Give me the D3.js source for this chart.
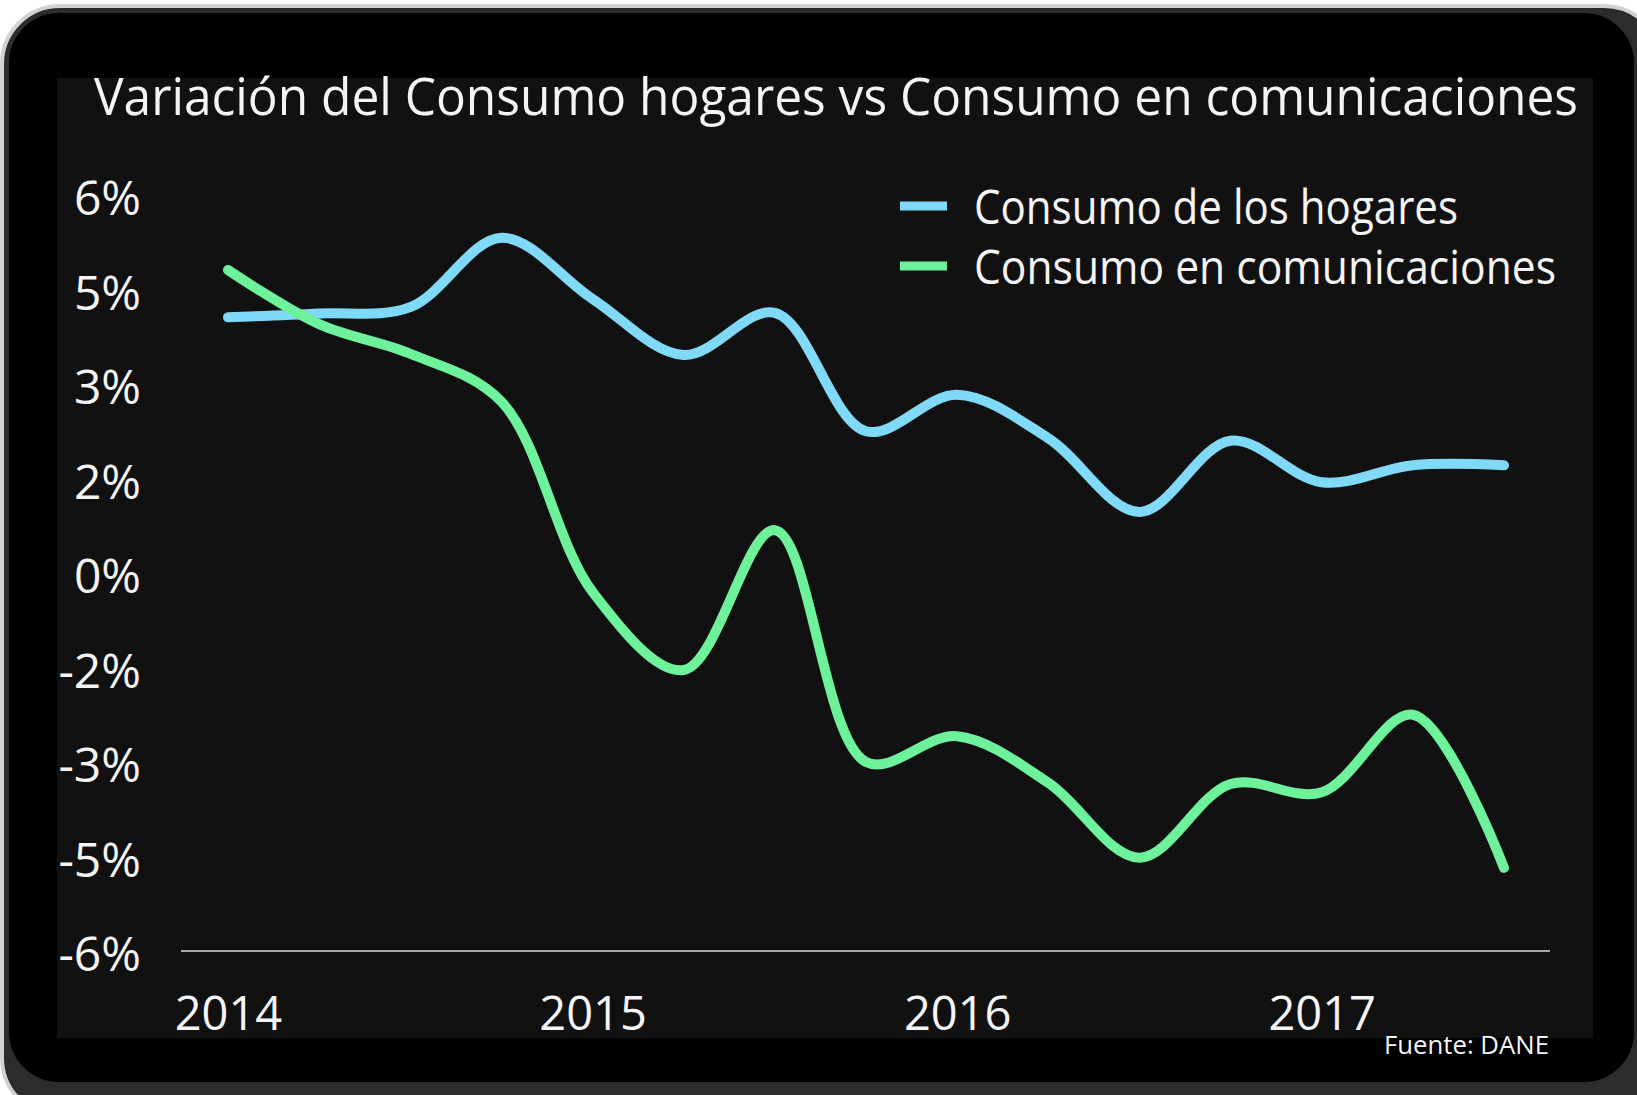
<!DOCTYPE html>
<html>
<head>
<meta charset="utf-8">
<script src="https://cdn.jsdelivr.net/npm/d3@7"></script>
<style>
  body { margin: 0; background: #ffffff; }
  svg { display: block; }
  text { font-family: "Open Sans", "Noto Sans", sans-serif; fill: #f4f4f4; }
</style>
</head>
<body>
<div class="mainView"></div>
<script>
// quarterly periods, 2014 T1 .. 2017 T3
let quarters = [2014.00, 2014.25, 2014.50, 2014.75,
                2015.00, 2015.25, 2015.50, 2015.75,
                2016.00, 2016.25, 2016.50, 2016.75,
                2017.00, 2017.25, 2017.50];
let hogares = [4.06, 4.12, 4.22, 5.32, 4.35, 3.46, 4.13, 2.25, 2.83, 2.14, 0.97, 2.10, 1.44, 1.71, 1.71];
let comunicaciones = [4.81, 3.95, 3.48, 2.72, -0.30, -1.54, 0.68, -3.00, -2.59, -3.33, -4.52, -3.35, -3.48, -2.25, -4.68];
let seriesNames = ["Consumo de los hogares", "Consumo en comunicaciones"];
let seriesColors = ["#7fd9f7", "#6df29b"];
let yTicks = [6, 4.5, 3, 1.5, 0, -1.5, -3, -4.5, -6];
let yTickLabels = ["6%", "5%", "3%", "2%", "0%", "-2%", "-3%", "-5%", "-6%"];
let xTicks = [2014, 2015, 2016, 2017];
let title = "Variación del Consumo hogares vs Consumo en comunicaciones";
let source = "Fuente: DANE";

function chartConfiguration(){
    let width = 1637;
    let height = 1095;
    let svg = d3.select(".mainView")
                .append("svg")
                .attr("width", width)
                .attr("height", height);
    return { width, height, svg };
}

function drawFrame(config){
    let { svg } = config;
    // device-like frame
    svg.append("rect")
        .attr("x", 2).attr("y", 6)
        .attr("width", 1660).attr("height", 1110)
        .attr("rx", 58)
        .style("fill", "#2c2c2c")
        .style("stroke", "#d2d2d2")
        .style("stroke-width", 4);
    svg.append("rect")
        .attr("x", 9).attr("y", 13)
        .attr("width", 1625).attr("height", 1069)
        .attr("rx", 50)
        .style("fill", "#000");
    svg.append("rect")
        .attr("x", 57).attr("y", 78)
        .attr("width", 1536).attr("height", 960)
        .style("fill", "#111111");
}

function chartScales(){
    let xScale = d3.scaleLinear()
        .domain([2014, 2017.5])
        .range([228, 1504]);
    let yScale = d3.scaleLinear()
        .domain([-6, 6])
        .range([951, 195]);
    return { xScale, yScale };
}

function chartAxes(scales, config){
    let { xScale, yScale } = scales;
    let { svg } = config;

    let axisY = d3.axisLeft(yScale)
        .tickValues(yTicks)
        .tickFormat((d, i) => yTickLabels[i])
        .tickSize(0)
        .tickPadding(0);
    let gy = svg.append("g")
        .attr("transform", "translate(141,0)")
        .call(axisY);
    gy.select(".domain").remove();
    gy.selectAll("text")
        .attr("dy", "0.41em")
        .style("font-family", "'Open Sans', sans-serif")
        .style("font-size", "48px")
        .style("fill", "#f4f4f4");

    // baseline
    svg.append("line")
        .attr("x1", xScale(2014) - 47)
        .attr("x2", xScale(2017.5) + 46)
        .attr("y1", yScale(-6))
        .attr("y2", yScale(-6))
        .style("stroke", "#dcdcdc")
        .style("stroke-width", 1.5);

    let axisX = d3.axisBottom(xScale)
        .tickValues(xTicks)
        .tickFormat(d3.format("d"))
        .tickSize(0)
        .tickPadding(0);
    let gx = svg.append("g")
        .attr("transform", "translate(0,1030)")
        .call(axisX);
    gx.select(".domain").remove();
    gx.selectAll("text")
        .attr("dy", 0)
        .style("font-family", "'Open Sans', sans-serif")
        .style("font-size", "47px")
        .style("fill", "#f4f4f4");
}

function drawLines(scales, config){
    let { xScale, yScale } = scales;
    let { svg } = config;
    let series = [hogares, comunicaciones];
    let line = d3.line()
        .x((d, i) => xScale(quarters[i]))
        .y(d => yScale(d))
        .curve(d3.curveCatmullRom.alpha(0.5));
    series.forEach((values, k) => {
        svg.append("path")
            .datum(values)
            .attr("d", line)
            .style("fill", "none")
            .style("stroke", seriesColors[k])
            .style("stroke-width", 10)
            .style("stroke-linecap", "round")
            .style("stroke-linejoin", "round");
    });
}

function drawTexts(config){
    let { svg } = config;
    svg.append("text")
        .attr("x", 94)
        .attr("y", 115)
        .attr("textLength", 1484)
        .attr("lengthAdjust", "spacingAndGlyphs")
        .style("font-size", "51px")
        .text(title);

    let legend = svg.append("g").attr("transform", "translate(900,206)");
    let widths = [484, 582];
    seriesNames.forEach((name, i) => {
        legend.append("rect")
            .attr("x", 0)
            .attr("y", i * 60 - 4.5)
            .attr("width", 47)
            .attr("height", 9)
            .style("fill", seriesColors[i]);
        legend.append("text")
            .attr("x", 74)
            .attr("y", i * 60 + 18)
            .attr("textLength", widths[i])
            .attr("lengthAdjust", "spacingAndGlyphs")
            .style("font-size", "47px")
            .text(name);
    });

    svg.append("text")
        .attr("x", 1549)
        .attr("y", 1054)
        .attr("text-anchor", "end")
        .attr("textLength", 165)
        .attr("lengthAdjust", "spacingAndGlyphs")
        .style("font-size", "25px")
        .text(source);
}

let config = chartConfiguration();
drawFrame(config);
let scales = chartScales();
chartAxes(scales, config);
drawLines(scales, config);
drawTexts(config);
</script>
</body>
</html>
